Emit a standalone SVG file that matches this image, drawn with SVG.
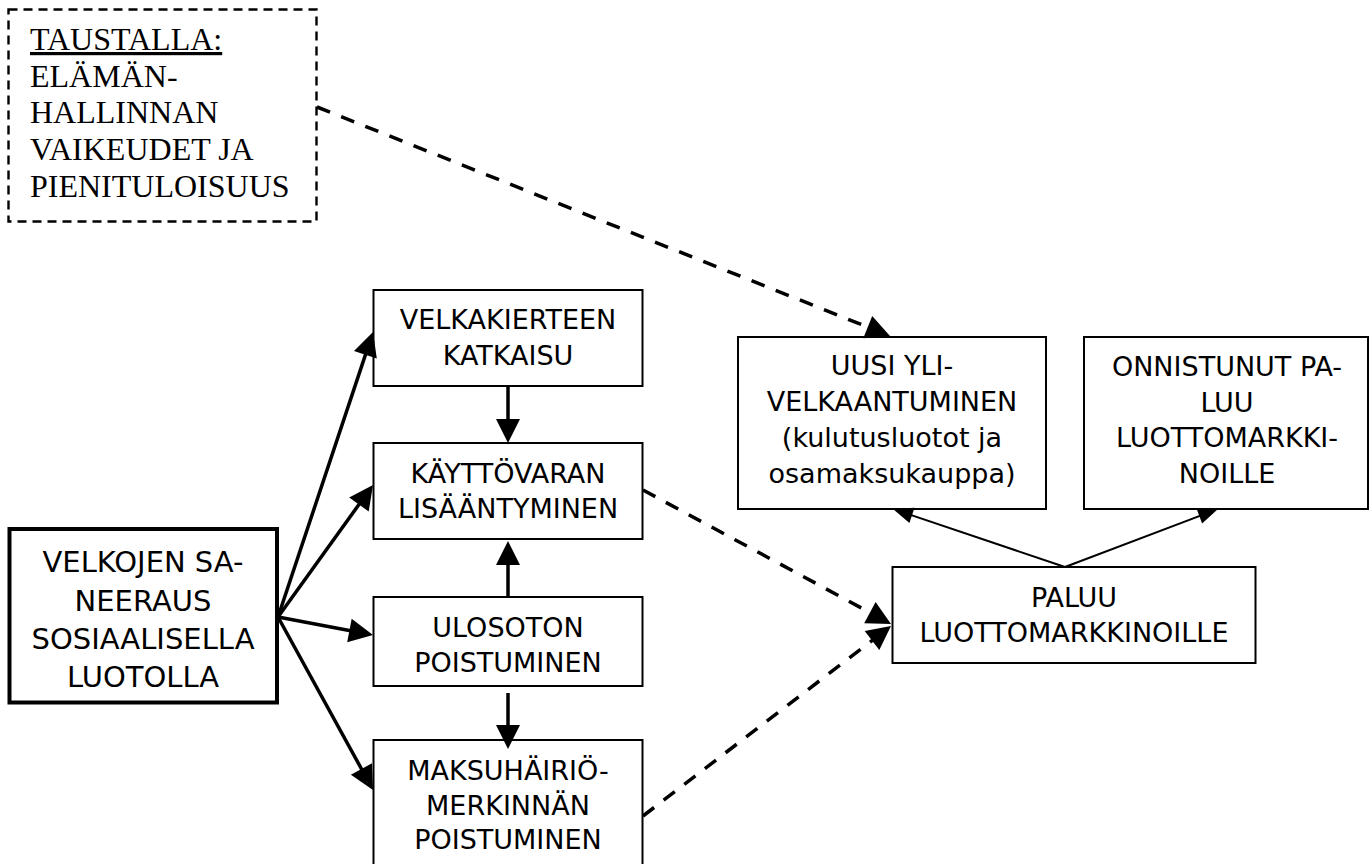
<svg xmlns="http://www.w3.org/2000/svg" width="1370" height="864" viewBox="0 0 1370 864">
<style>
.box{fill:#fff;stroke:#000;stroke-width:2}
.main{fill:#fff;stroke:#000;stroke-width:4}
.dbox{fill:#fff;stroke:#000;stroke-width:2.4;stroke-dasharray:9 6}
.t{font-family:"DejaVu Sans",Verdana,sans-serif;font-size:27px;fill:#000;text-anchor:middle}
.tm{font-family:"DejaVu Sans",Verdana,sans-serif;font-size:29px;fill:#000;text-anchor:middle}
.ts{font-family:"Liberation Serif","Times New Roman",serif;font-size:32px;fill:#000}
.thick{stroke:#000;stroke-width:3.5;fill:none}
.dash{stroke:#000;stroke-width:3.5;fill:none;stroke-dasharray:14 12}
.thin{stroke:#000;stroke-width:2;fill:none}
.head{fill:#000;stroke:none}
</style>
<rect width="1370" height="864" fill="#fff"/>

<g id="taustalla">
<rect class="dbox" x="8.5" y="9.5" width="308" height="212"/>
<text class="ts" x="30" y="50" text-decoration="underline">TAUSTALLA:</text>
<text class="ts" x="30" y="87">ELÄMÄN-</text>
<text class="ts" x="30" y="123">HALLINNAN</text>
<text class="ts" x="30" y="160">VAIKEUDET JA</text>
<text class="ts" x="30" y="197">PIENITULOISUUS</text>
</g>

<g id="velkojen">
<rect class="main" x="9.5" y="529" width="267.5" height="173.5"/>
<text class="tm" x="143" y="572">VELKOJEN SA-</text>
<text class="tm" x="143" y="611">NEERAUS</text>
<text class="tm" x="143" y="649">SOSIAALISELLA</text>
<text class="tm" x="143" y="687">LUOTOLLA</text>
</g>

<g id="velkakierteen">
<rect class="box" x="373.5" y="290" width="269" height="96"/>
<text class="t" x="508" y="329">VELKAKIERTEEN</text>
<text class="t" x="508" y="365">KATKAISU</text>
</g>

<g id="kayttovaran">
<rect class="box" x="373.5" y="443" width="269" height="96"/>
<text class="t" x="508" y="483">KÄYTTÖVARAN</text>
<text class="t" x="508" y="518">LISÄÄNTYMINEN</text>
</g>

<g id="ulosoton">
<rect class="box" x="373.5" y="597" width="269" height="89"/>
<text class="t" x="508" y="637">ULOSOTON</text>
<text class="t" x="508" y="672">POISTUMINEN</text>
</g>

<g id="maksuhairio">
<rect class="box" x="373.5" y="740" width="269" height="140"/>
<text class="t" x="508" y="780">MAKSUHÄIRIÖ-</text>
<text class="t" x="508" y="815">MERKINNÄN</text>
<text class="t" x="508" y="849">POISTUMINEN</text>
</g>

<g id="uusi">
<rect class="box" x="738" y="337" width="308" height="172"/>
<text class="t" x="892" y="375">UUSI YLI-</text>
<text class="t" x="892" y="411">VELKAANTUMINEN</text>
<text class="t" x="892" y="447">(kulutusluotot ja</text>
<text class="t" x="892" y="483">osamaksukauppa)</text>
</g>

<g id="onnistunut">
<rect class="box" x="1084" y="337" width="284" height="172"/>
<text class="t" x="1227" y="376">ONNISTUNUT PA-</text>
<text class="t" x="1227" y="412">LUU</text>
<text class="t" x="1227" y="447">LUOTTOMARKKI-</text>
<text class="t" x="1227" y="483">NOILLE</text>
</g>

<g id="paluu">
<rect class="box" x="892.5" y="567" width="363" height="96"/>
<text class="t" x="1074" y="607">PALUU</text>
<text class="t" x="1074" y="642">LUOTTOMARKKINOILLE</text>
</g>

<g id="connectors">
<line class="thick" x1="278" y1="617" x2="370.5" y2="339.6"/>
<polygon class="head" points="373,332 376.8,358.6 354,351"/>
<line class="thick" x1="278" y1="617" x2="368.3" y2="491.5"/>
<polygon class="head" points="373,485 368.7,511.5 349.2,497.5"/>
<line class="thick" x1="278" y1="617" x2="365.1" y2="633.5"/>
<polygon class="head" points="373,635 347.2,642.3 351.7,618.7"/>
<line class="thick" x1="278" y1="617" x2="369.2" y2="783"/>
<polygon class="head" points="373,790 350.9,774.7 372,763.2"/>

<line class="thick" x1="508" y1="386" x2="508" y2="437"/>
<polygon class="head" points="508,443 496,419 520,419"/>
<line class="thick" x1="508" y1="597" x2="508" y2="547"/>
<polygon class="head" points="508,541 496,565 520,565"/>
<line class="thick" x1="508" y1="693" x2="508" y2="743"/>
<polygon class="head" points="508,749 496,725 520,725"/>

<line class="dash" x1="317" y1="107" x2="880.7" y2="332.3"/>
<polygon class="head" points="890,336 863.3,338.2 872.2,316"/>
<line class="dash" x1="643" y1="490" x2="882.2" y2="619.2"/>
<polygon class="head" points="891,624 864.2,623.2 875.6,602"/>
<line class="dash" x1="643" y1="816" x2="883.1" y2="632.1"/>
<polygon class="head" points="891,626 879.3,650.1 864.7,631.1"/>

<line class="thin" x1="1065" y1="567" x2="898.7" y2="510.9"/>
<polygon class="head" points="893,509 914.5,507.8 909.4,523"/>
<line class="thin" x1="1065" y1="567" x2="1212.4" y2="511.1"/>
<polygon class="head" points="1218,509 1202.1,523.6 1196.5,508.6"/>
</g>
</svg>
